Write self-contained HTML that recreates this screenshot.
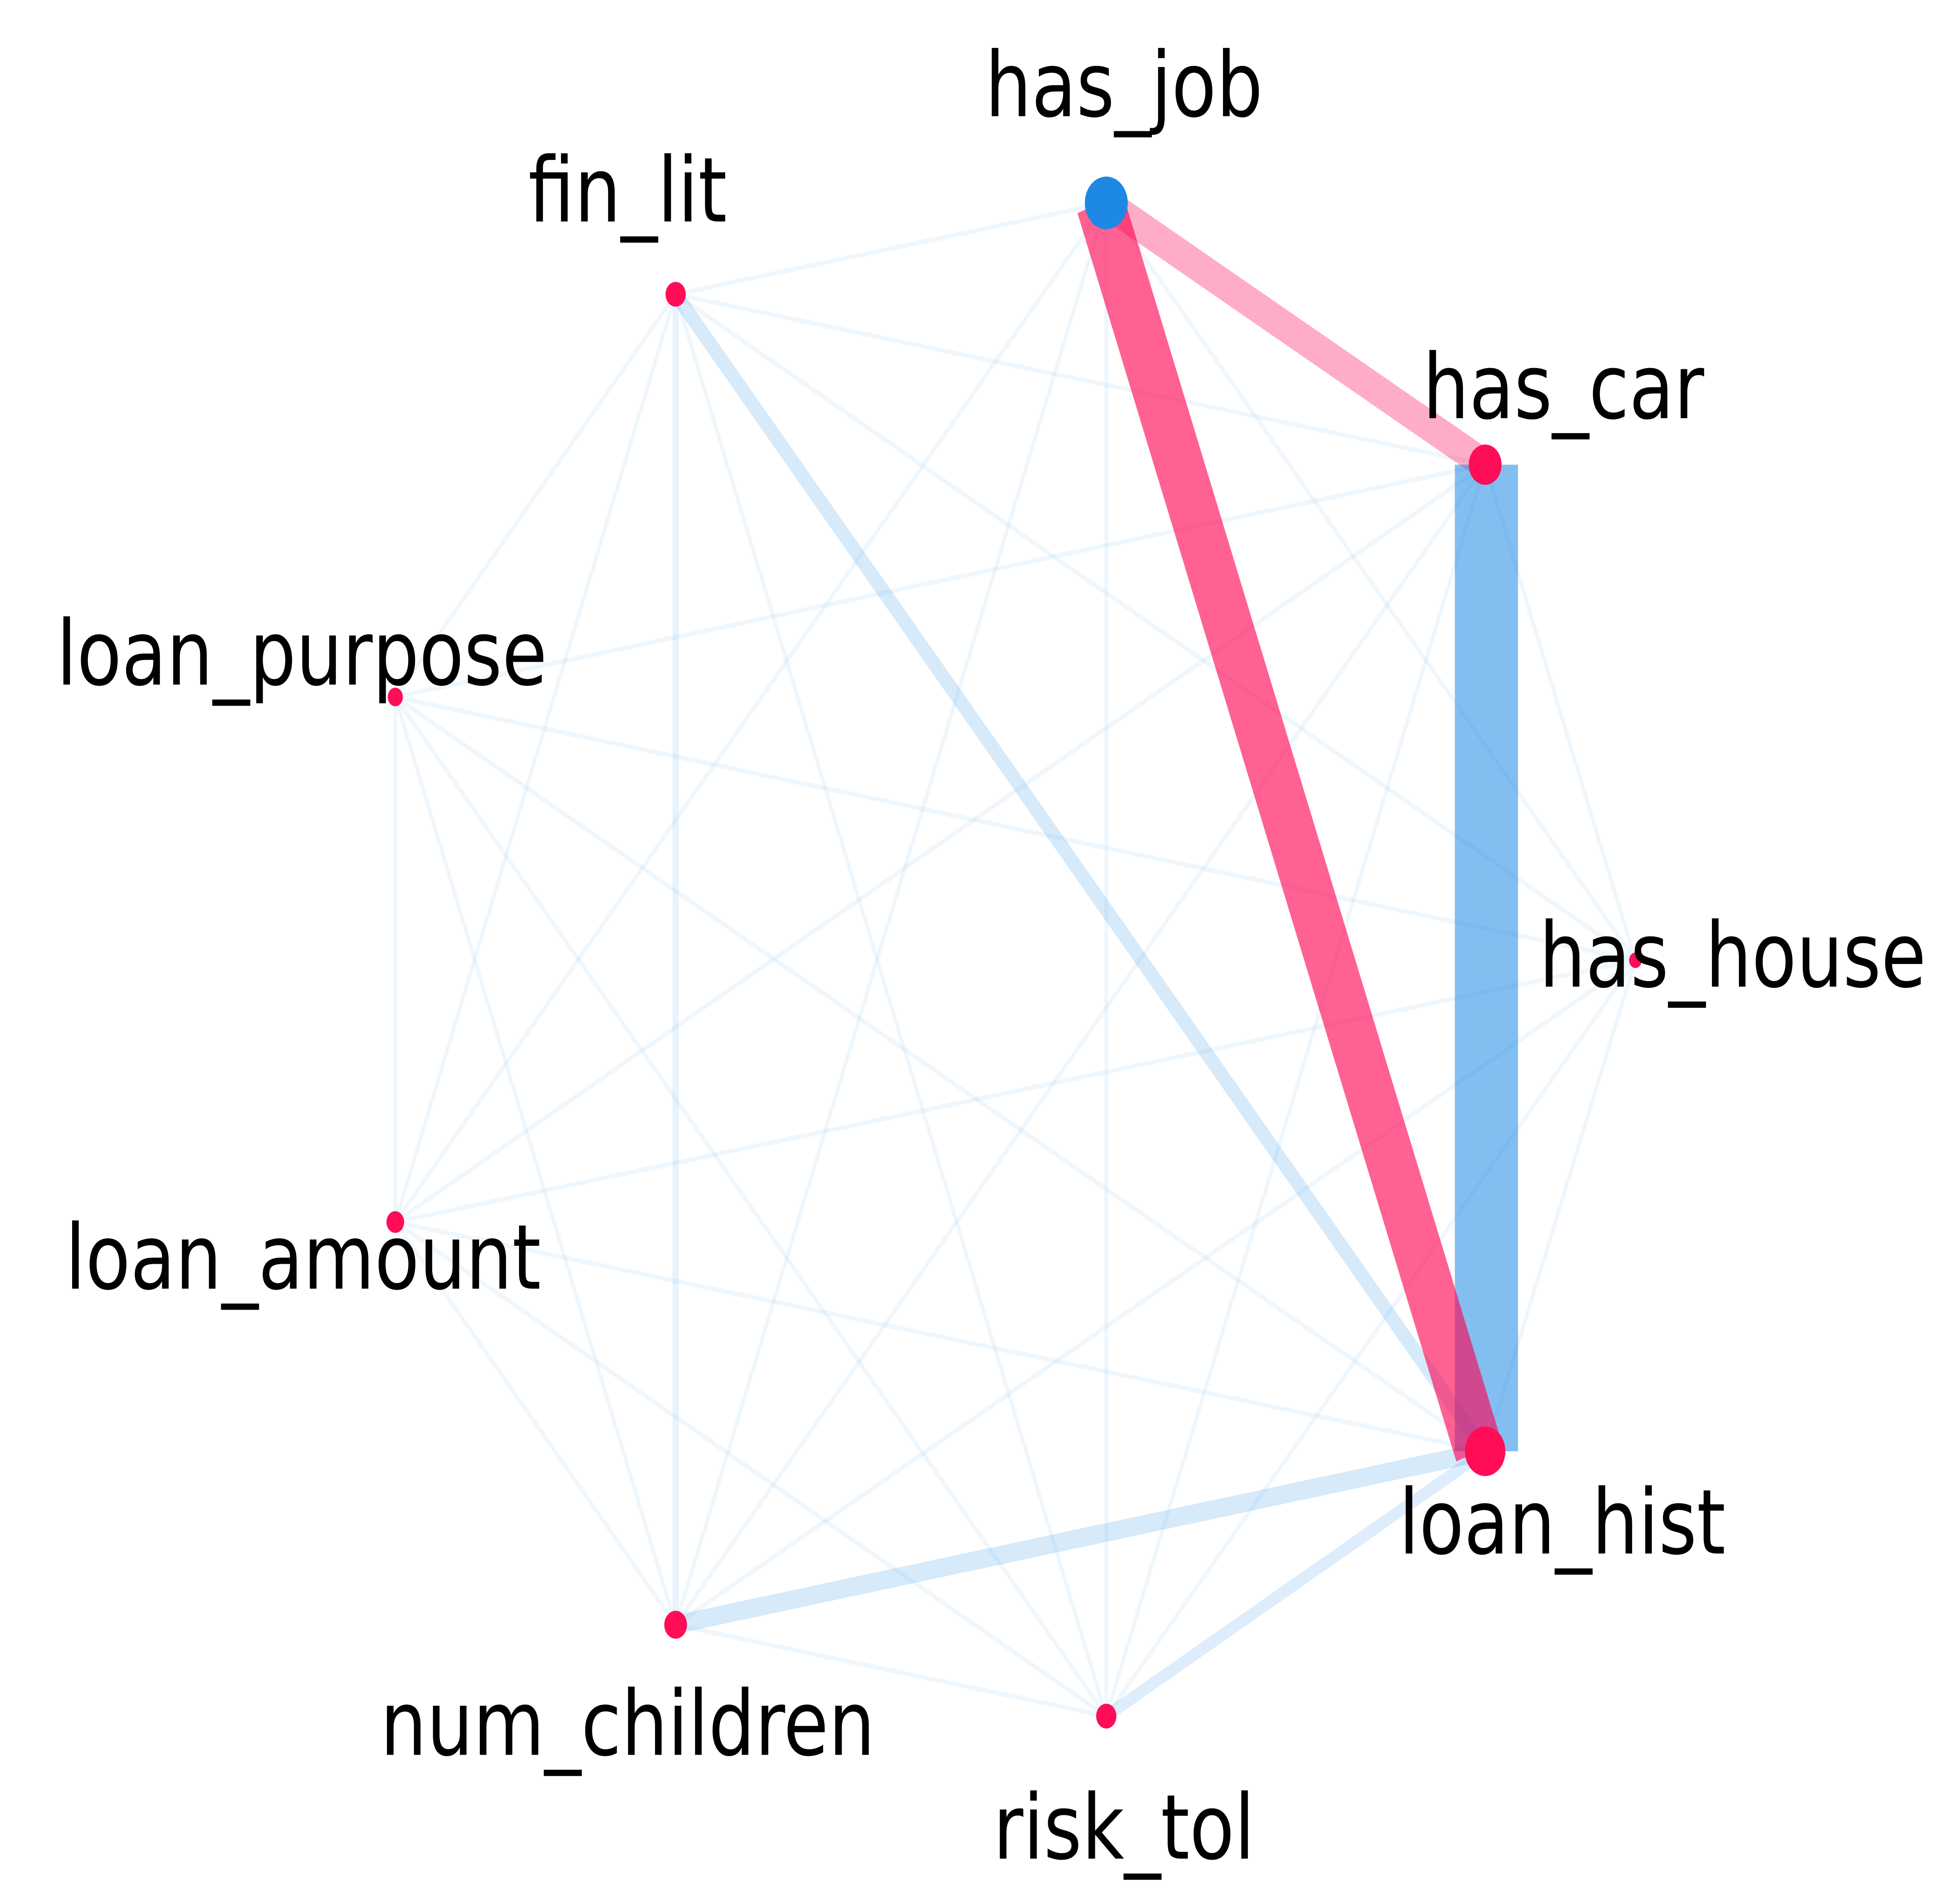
<!DOCTYPE html>
<html><head><meta charset="utf-8"><style>
html,body{margin:0;padding:0;background:#fff;width:100%;height:100%;overflow:hidden;}
svg{display:block;position:fixed;left:0;top:0;width:100vw;height:100vh;}
text{font-family:"DejaVu Sans","Liberation Sans",sans-serif;font-size:58px;fill:#000;text-anchor:middle;}
</style></head><body>
<svg viewBox="0 0 1552 1228" preserveAspectRatio="none" xmlns="http://www.w3.org/2000/svg">
<g stroke="#1e88e5" stroke-opacity="0.07" stroke-width="3" fill="none">
<line x1="876" y1="131" x2="535" y2="190"/>
<line x1="876" y1="131" x2="313" y2="789"/>
<line x1="876" y1="131" x2="535" y2="1049"/>
<line x1="876" y1="131" x2="1295" y2="620"/>
<line x1="535" y1="190" x2="1176" y2="300"/>
<line x1="535" y1="190" x2="313" y2="450"/>
<line x1="535" y1="190" x2="313" y2="789"/>
<line x1="535" y1="190" x2="876" y2="1108"/>
<line x1="535" y1="190" x2="1295" y2="620"/>
<line x1="313" y1="450" x2="1176" y2="300"/>
<line x1="313" y1="450" x2="1295" y2="620"/>
<line x1="313" y1="450" x2="1176" y2="937"/>
<line x1="313" y1="450" x2="535" y2="1049"/>
<line x1="313" y1="450" x2="876" y2="1108"/>
<line x1="313" y1="450" x2="313" y2="789"/>
<line x1="313" y1="789" x2="1176" y2="300"/>
<line x1="313" y1="789" x2="1295" y2="620"/>
<line x1="313" y1="789" x2="1176" y2="937"/>
<line x1="313" y1="789" x2="535" y2="1049"/>
<line x1="313" y1="789" x2="876" y2="1108"/>
<line x1="535" y1="1049" x2="1176" y2="300"/>
<line x1="535" y1="1049" x2="1295" y2="620"/>
<line x1="535" y1="1049" x2="876" y2="1108"/>
<line x1="876" y1="1108" x2="1176" y2="300"/>
<line x1="876" y1="1108" x2="1295" y2="620"/>
<line x1="1176" y1="300" x2="1295" y2="620"/>
<line x1="1295" y1="620" x2="1176" y2="937"/>
<line x1="876" y1="131" x2="876" y2="1108"/>
</g>
<g stroke="#1e88e5" fill="none">
<line x1="535" y1="190" x2="535" y2="1049" stroke-opacity="0.1" stroke-width="5"/>
<line x1="535" y1="190" x2="1176" y2="937" stroke-opacity="0.18" stroke-width="10"/>
<line x1="535" y1="1049" x2="1176" y2="937" stroke-opacity="0.18" stroke-width="12"/>
<line x1="876" y1="1108" x2="1176" y2="937" stroke-opacity="0.15" stroke-width="8"/>
</g>
<line x1="876" y1="131" x2="1176" y2="300" stroke="#ff0051" stroke-opacity="0.32" stroke-width="20"/>
<line x1="1177" y1="300" x2="1177" y2="937" stroke="#1e88e5" stroke-opacity="0.55" stroke-width="50"/>
<line x1="871" y1="131" x2="1171" y2="937" stroke="#ff0051" stroke-opacity="0.62" stroke-width="38"/>
<g fill="#ff0d57">
<circle cx="535" cy="190" r="8"/>
<circle cx="1176" cy="300" r="13"/>
<circle cx="313" cy="450" r="6"/>
<circle cx="1295" cy="620" r="5"/>
<circle cx="313" cy="789" r="7"/>
<circle cx="1176" cy="937" r="16"/>
<circle cx="535" cy="1049" r="9"/>
<circle cx="876" cy="1108" r="8"/>
</g>
<circle cx="876" cy="131" r="17" fill="#1e88e5"/>
<text x="890" y="75">has_job</text>
<text x="497" y="143">fin_lit</text>
<text x="1238" y="270">has_car</text>
<text x="239" y="442">loan_purpose</text>
<text x="1372" y="637">has_house</text>
<text x="240" y="832">loan_amount</text>
<text x="1237" y="1003">loan_hist</text>
<text x="497" y="1133">num_children</text>
<text x="890" y="1200">risk_tol</text>
</svg>
</body></html>
